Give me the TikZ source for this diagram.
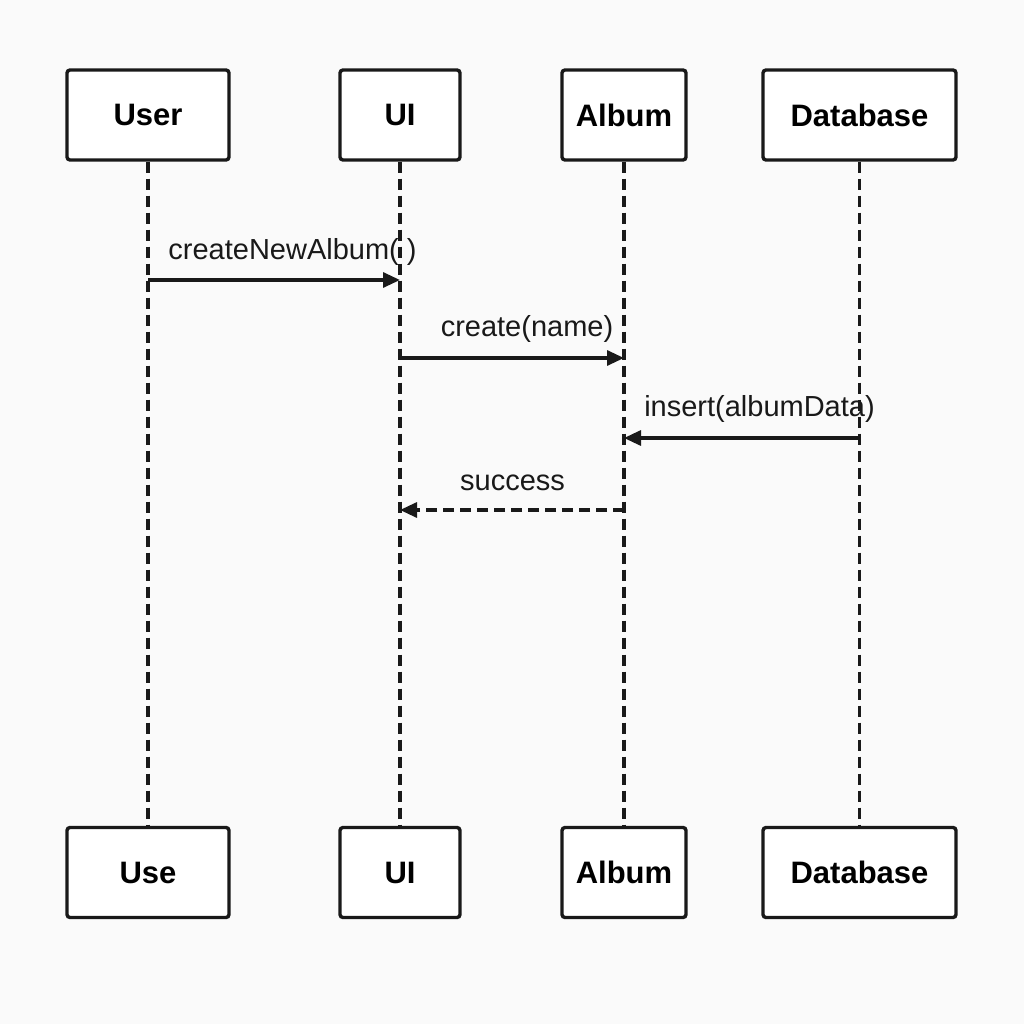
\documentclass[tikz,border=0pt]{standalone}
\usepackage{fontspec}
\setmainfont{Liberation Sans}
\usetikzlibrary{arrows.meta}
\begin{document}
\begin{tikzpicture}[x=1pt,y=-1pt,
  actor/.style={draw=black!90, line width=3.4pt, fill=white, rounded corners=3pt,
    minimum height=90pt, inner sep=0pt, font=\fontsize{31}{36}\selectfont\bfseries},
  life/.style={draw=black!90, line width=3.2pt, dash pattern=on 11pt off 6pt},
  msg/.style={draw=black!90, line width=3.2pt, -{Triangle[length=17pt,width=15pt]}},
  ret/.style={msg, dash pattern=on 11pt off 6pt},
  lbl/.style={font=\fontsize{29}{34}\selectfont, text=black!90, inner sep=0pt}]
\fill[black!2] (0,0) rectangle (1024,1024);
\useasboundingbox (0,0) rectangle (1024,1024);
% top actors
\node[actor, minimum width=162pt] (user) at (148,115) {User};
\node[actor, minimum width=120pt] (ui) at (400,115) {UI};
\node[actor, minimum width=124pt] (album) at (624,115) {Album};
\node[actor, minimum width=193pt] (db) at (859.5,115) {Database};
% bottom actors
\node[actor, minimum width=162pt] (user2) at (148,872.5) {Use};
\node[actor, minimum width=120pt] (ui2) at (400,872.5) {UI};
\node[actor, minimum width=124pt] (album2) at (624,872.5) {Album};
\node[actor, minimum width=193pt] (db2) at (859.5,872.5) {Database};
% lifelines
\draw[life] (user.south) -- (user2.north);
\draw[life] (ui.south) -- (ui2.north);
\draw[life] (album.south) -- (album2.north);
\draw[life] (db.south) -- (db2.north);
% message points
\coordinate (m1s) at (user.south |- 0,280);
\coordinate (m1e) at (ui.south |- 0,280);
\coordinate (m2s) at (ui.south |- 0,358);
\coordinate (m2e) at (album.south |- 0,358);
\coordinate (m3s) at (db.south |- 0,438);
\coordinate (m3e) at (album.south |- 0,438);
\coordinate (m4s) at (album.south |- 0,510);
\coordinate (m4e) at (ui.south |- 0,510);
\draw[msg] (m1s) -- (m1e);
\draw[msg] (m2s) -- (m2e);
\draw[msg] (m3s) -- (m3e);
\draw[ret] (m4s) -- (m4e);
% labels
\node[lbl] (l1) at (292.5,252) {createNewAlbum( )};
\node[lbl] (l2) at (527,329) {create(name)};
\node[lbl] (l3) at (759.5,409) {insert(albumData)};
\node[lbl] (l4) at (512.5,483) {success};
\end{tikzpicture}
\end{document}
